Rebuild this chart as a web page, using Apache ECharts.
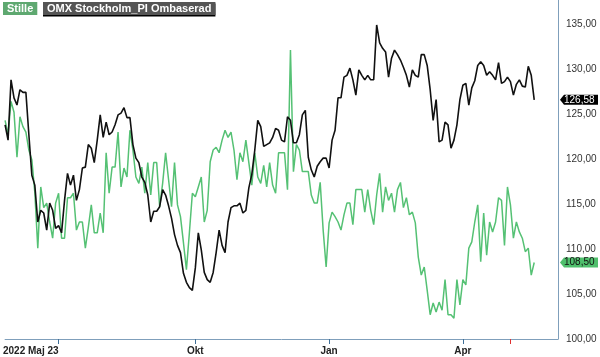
<!DOCTYPE html>
<html>
<head>
<meta charset="utf-8">
<script src="https://cdn.jsdelivr.net/npm/echarts@6/dist/echarts.min.js"></script>
<style>html,body{margin:0;padding:0;background:#fff;}#c{width:600px;height:357px;}</style>
</head>
<body>
<div id="c"></div>
<script>
// OMX Stockholm_PI Ombaserad (black)
const omx = [123.8,122.1,128.8,126.8,126.0,127.7,127.4,127.4,122.7,118.2,
117.1,113.0,114.3,114.0,112.1,115.1,114.3,112.3,112.6,111.8,
115.4,118.4,117.1,118.2,115.4,116.6,119.0,119.1,121.6,121.2,
119.6,122.1,124.9,122.4,124.1,122.7,123.0,123.8,124.9,125.1,
125.7,124.6,124.6,121.6,120.1,119.6,118.0,117.4,116.0,113.0,
114.2,114.2,114.7,116.6,116.0,114.8,113.4,111.6,110.4,109.6,
107.3,106.3,105.7,105.4,107.9,111.8,109.9,107.4,106.6,106.3,
107.4,109.6,112.1,110.4,109.6,113.0,114.6,114.8,114.8,115.1,
114.0,114.3,116.8,118.3,121.0,124.3,123.6,121.4,121.6,121.8,
122.4,123.4,123.2,122.1,121.9,124.7,124.3,121.8,121.8,122.7,
124.9,125.4,120.2,118.8,118.0,119.2,119.7,120.1,120.1,119.0,
122.1,123.2,126.8,126.8,129.1,129.3,130.1,128.8,127.1,129.9,
129.3,128.8,129.3,128.8,128.8,134.9,132.9,132.3,131.9,129.1,
131.2,132.1,131.6,131.0,130.2,129.3,128.0,129.9,129.3,129.1,
131.6,131.6,130.4,127.7,124.3,126.6,121.9,122.1,124.1,123.8,
121.2,122.1,123.8,126.6,128.2,128.4,126.0,127.9,128.7,130.4,
130.8,130.4,129.3,129.7,129.3,128.8,130.7,128.4,128.6,129.1,
128.6,127.1,128.3,128.8,128.1,128.0,130.3,129.3,126.58];
// Stille (green)
const stille = [124.3,122.7,126.4,125.2,120.2,124.7,123.6,123.0,121.0,119.9,
116.3,110.1,116.9,114.6,115.1,113.0,111.2,115.1,116.2,111.2,
111.2,115.7,115.7,116.2,112.1,113.0,113.0,110.1,112.4,114.9,
111.8,111.8,114.0,111.8,120.7,116.2,119.1,119.1,123.0,116.9,
119.0,118.0,123.2,121.0,118.0,117.3,119.1,116.2,119.6,116.0,
119.6,119.6,114.7,117.3,120.7,117.7,114.7,119.6,114.9,113.6,
110.7,107.7,111.8,116.2,115.8,116.9,118.0,113.0,114.3,119.7,
121.0,121.3,120.7,122.1,123.2,122.4,123.0,121.0,117.7,120.7,
119.7,122.1,119.6,117.1,120.7,118.0,117.3,119.3,116.9,119.6,
117.1,116.2,120.7,120.7,120.7,116.6,132.1,118.6,121.6,121.0,
118.6,118.6,118.6,116.0,115.1,115.1,117.4,112.1,108.0,112.9,
114.1,113.6,113.0,112.1,113.8,115.1,115.1,112.7,116.6,116.6,
116.6,114.1,116.6,114.3,112.7,116.0,118.4,114.1,116.9,115.4,
116.2,114.1,116.6,117.4,114.6,115.7,113.8,114.1,112.9,109.1,
107.1,108.0,105.4,102.7,104.0,103.0,104.1,103.2,106.6,102.7,
102.7,102.3,106.6,103.8,106.6,106.0,110.1,110.8,113.0,114.9,
108.6,114.0,109.3,113.0,111.9,113.0,115.7,115.4,110.4,116.9,
114.9,111.2,113.0,111.9,111.2,109.7,110.1,107.1,108.5];

const padCount = 8; // empty slots to the right of the last point
const categories = Array.from({length: omx.length + padCount}, (_, i) => 'p' + i);
const tickIndex = [18, 64, 109, 154];
const tickLabels = ['2022 Maj 23', 'Okt', 'Jan', 'Apr'];
const markerIndex = 170;
const yTicks = [100, 105, 110, 115, 120, 125, 130, 135];

const fmt = v => v.toFixed(2).replace('.', ',');
const lastOmx = omx[omx.length - 1];
const lastStille = stille[stille.length - 1];

const chart = echarts.init(document.getElementById('c'), null, {renderer: 'canvas'});
const axisLineColor = '#7f9fbb';
const tickColor = '#3f6f98';
const font = 'Arial, "Liberation Sans", sans-serif';

const baseX = {
  type: 'category', data: categories, boundaryGap: false, position: 'bottom',
  splitLine: {show: false}
};

chart.setOption({
  animation: false,
  title: [
    {text: 'Stille', left: 3, top: 2, padding: [1, 4, 1, 4], backgroundColor: '#5ea870',
     textStyle: {color: '#fff', fontSize: 11, fontWeight: 'bold', fontFamily: font}},
    {text: 'OMX Stockholm_PI Ombaserad', left: 43, top: 2, padding: [1, 4, 1, 4], backgroundColor: '#555555',
     shadowColor: '#000', shadowOffsetY: 1.5, shadowBlur: 0,
     textStyle: {color: '#fff', fontSize: 11, fontWeight: 'bold', fontFamily: font}}
  ],
  grid: {left: 0, right: 42, top: 0, bottom: 18, containLabel: false},
  xAxis: [
    Object.assign({}, baseX, {
      axisLine: {show: true, lineStyle: {color: axisLineColor, width: 1}},
      axisTick: {show: true, length: 5, lineStyle: {color: tickColor},
        interval: (i) => tickIndex.indexOf(i) >= 0},
      axisLabel: {show: true, margin: 7, color: '#222', fontSize: 10, fontWeight: 'bold', fontFamily: font,
        interval: (i) => tickIndex.indexOf(i) > 0,
        formatter: (v, i) => { const k = tickIndex.indexOf(i); return k > 0 ? tickLabels[k] : ''; }}
    }),
    Object.assign({}, baseX, {
      axisLine: {show: false},
      axisTick: {show: true, length: 5, lineStyle: {color: '#e03030'},
        interval: (i) => i === markerIndex},
      axisLabel: {show: true, margin: 7, color: '#222', fontSize: 10, fontWeight: 'bold', fontFamily: font,
        align: 'right',
        interval: (i) => i === tickIndex[0],
        formatter: (v, i) => i === tickIndex[0] ? tickLabels[0] : ''}
    })
  ],
  yAxis: {
    type: 'value', position: 'right', min: 100, max: 137.67, interval: 5,
    axisLine: {show: true, lineStyle: {color: axisLineColor, width: 1}},
    axisTick: {show: false},
    splitLine: {show: false},
    axisLabel: {margin: 8, color: '#333', fontSize: 10, fontFamily: font, showMaxLabel: false,
      formatter: v => yTicks.indexOf(v) >= 0 ? fmt(v) : ''}
  },
  series: [
    {name: 'Stille', type: 'line', data: stille, xAxisIndex: 0, symbol: 'none',
     lineStyle: {color: '#55c174', width: 1.5}, z: 2},
    {name: 'OMX Stockholm_PI Ombaserad', type: 'line', data: omx, xAxisIndex: 0, symbol: 'none',
     lineStyle: {color: '#111111', width: 1.6}, z: 3}
  ]
});

function tag(value, fill, textColor) {
  const y = chart.convertToPixel({yAxisIndex: 0}, value);
  const xr = chart.convertToPixel({xAxisIndex: 0}, categories.length - 1);
  return {
    type: 'group', z: 100,
    children: [
      {type: 'polygon', shape: {points: [[xr + 2, y], [xr + 6, y - 5], [xr + 40, y - 5], [xr + 40, y + 5], [xr + 6, y + 5]]},
       style: {fill: fill}},
      {type: 'text', x: xr + 6, y: y,
       style: {text: fmt(value), fill: textColor, fontSize: 10, fontFamily: font, verticalAlign: 'middle', align: 'left'}}
    ]
  };
}
chart.setOption({graphic: [tag(lastOmx, '#000', '#fff'), tag(lastStille, '#4fbf6c', '#111')]});
</script>
</body>
</html>
